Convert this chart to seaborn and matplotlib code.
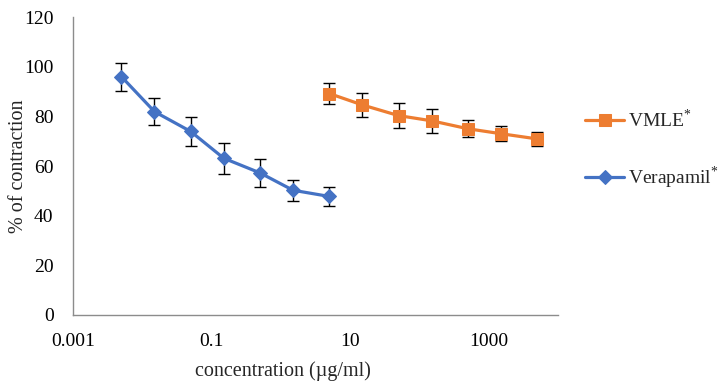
import matplotlib
matplotlib.use("Agg")
import matplotlib.pyplot as plt
import seaborn as sns
import numpy as np
import pandas as pd

# Data
conc_verapamil = [0.005, 0.015, 0.05, 0.15, 0.5, 1.5, 5]
resp_verapamil = [96.1, 82.0, 74.0, 63.2, 57.3, 50.3, 47.8]
err_verapamil = [5.7, 5.4, 6.0, 6.2, 5.5, 4.3, 3.9]

conc_vmle = [5, 15, 50, 150, 500, 1500, 5000]
resp_vmle = [89.3, 84.7, 80.4, 78.3, 75.1, 73.1, 71.0]
err_vmle = [4.3, 5.0, 5.0, 4.8, 3.5, 3.0, 2.8]

x_ticks = [0.001, 0.1, 10, 1000]
x_tick_labels = ["0.001", "0.1", "10", "1000"]
y_ticks = [0, 20, 40, 60, 80, 100, 120]

sns.set_style("white")
plt.rcParams['font.family'] = ['Liberation Serif', 'DejaVu Serif']
plt.rcParams['mathtext.fontset'] = 'custom'
plt.rcParams['mathtext.rm'] = 'Liberation Serif'

fig = plt.figure(figsize=(7.27, 3.82), dpi=100)
ax = fig.add_axes([0.1004, 0.1754, 0.6671, 0.7791])

orange = "#ED7D31"
blue = "#4472C4"

df_v = pd.DataFrame({"conc": conc_verapamil, "resp": resp_verapamil})
df_m = pd.DataFrame({"conc": conc_vmle, "resp": resp_vmle})

ax.errorbar(conc_vmle, resp_vmle, yerr=err_vmle, fmt="none", ecolor="black",
            elinewidth=1.0, capsize=4, capthick=1.0, zorder=1)
ax.errorbar(conc_verapamil, resp_verapamil, yerr=err_verapamil, fmt="none",
            ecolor="black", elinewidth=1.0, capsize=4, capthick=1.0, zorder=1)

sns.lineplot(data=df_m, x="conc", y="resp", ax=ax, color=orange, marker="s",
             markersize=9, markeredgecolor=orange, linewidth=2.3,
             label="VMLE$^{*}$", zorder=3)
sns.lineplot(data=df_v, x="conc", y="resp", ax=ax, color=blue, marker="D",
             markersize=7, markeredgecolor=blue, linewidth=2.3,
             label="Verapamil$^{*}$", zorder=3)

ax.set_xscale("log")
ax.set_xlim(0.001, 10000)
ax.set_ylim(0, 120)
ax.set_xticks(x_ticks)
ax.set_xticklabels(x_tick_labels)
ax.minorticks_off()
ax.set_yticks(y_ticks)

for s in ["top", "right"]:
    ax.spines[s].set_visible(False)
for s in ["left", "bottom"]:
    ax.spines[s].set_color("#8c8c8c")
    ax.spines[s].set_linewidth(1.0)

ax.tick_params(axis="both", which="major", direction="out", length=5, width=1,
               color="#8c8c8c", labelsize=14, labelcolor="black")
ax.tick_params(axis="y", pad=9)
ax.tick_params(axis="x", pad=8)

ax.set_xlabel("concentration (µg/ml)", fontsize=14.5)
ax.set_ylabel("% of contraction", fontsize=14.5)
ax.xaxis.set_label_coords(0.433, -0.155)
ax.yaxis.set_label_coords(-0.093, 0.5)

leg = ax.legend(loc="upper left", bbox_to_anchor=(1.04, 0.72), frameon=False,
                fontsize=14, handlelength=2.0, handletextpad=0.2,
                labelspacing=1.7, borderaxespad=0)

fig.savefig("out.png", dpi=100)
